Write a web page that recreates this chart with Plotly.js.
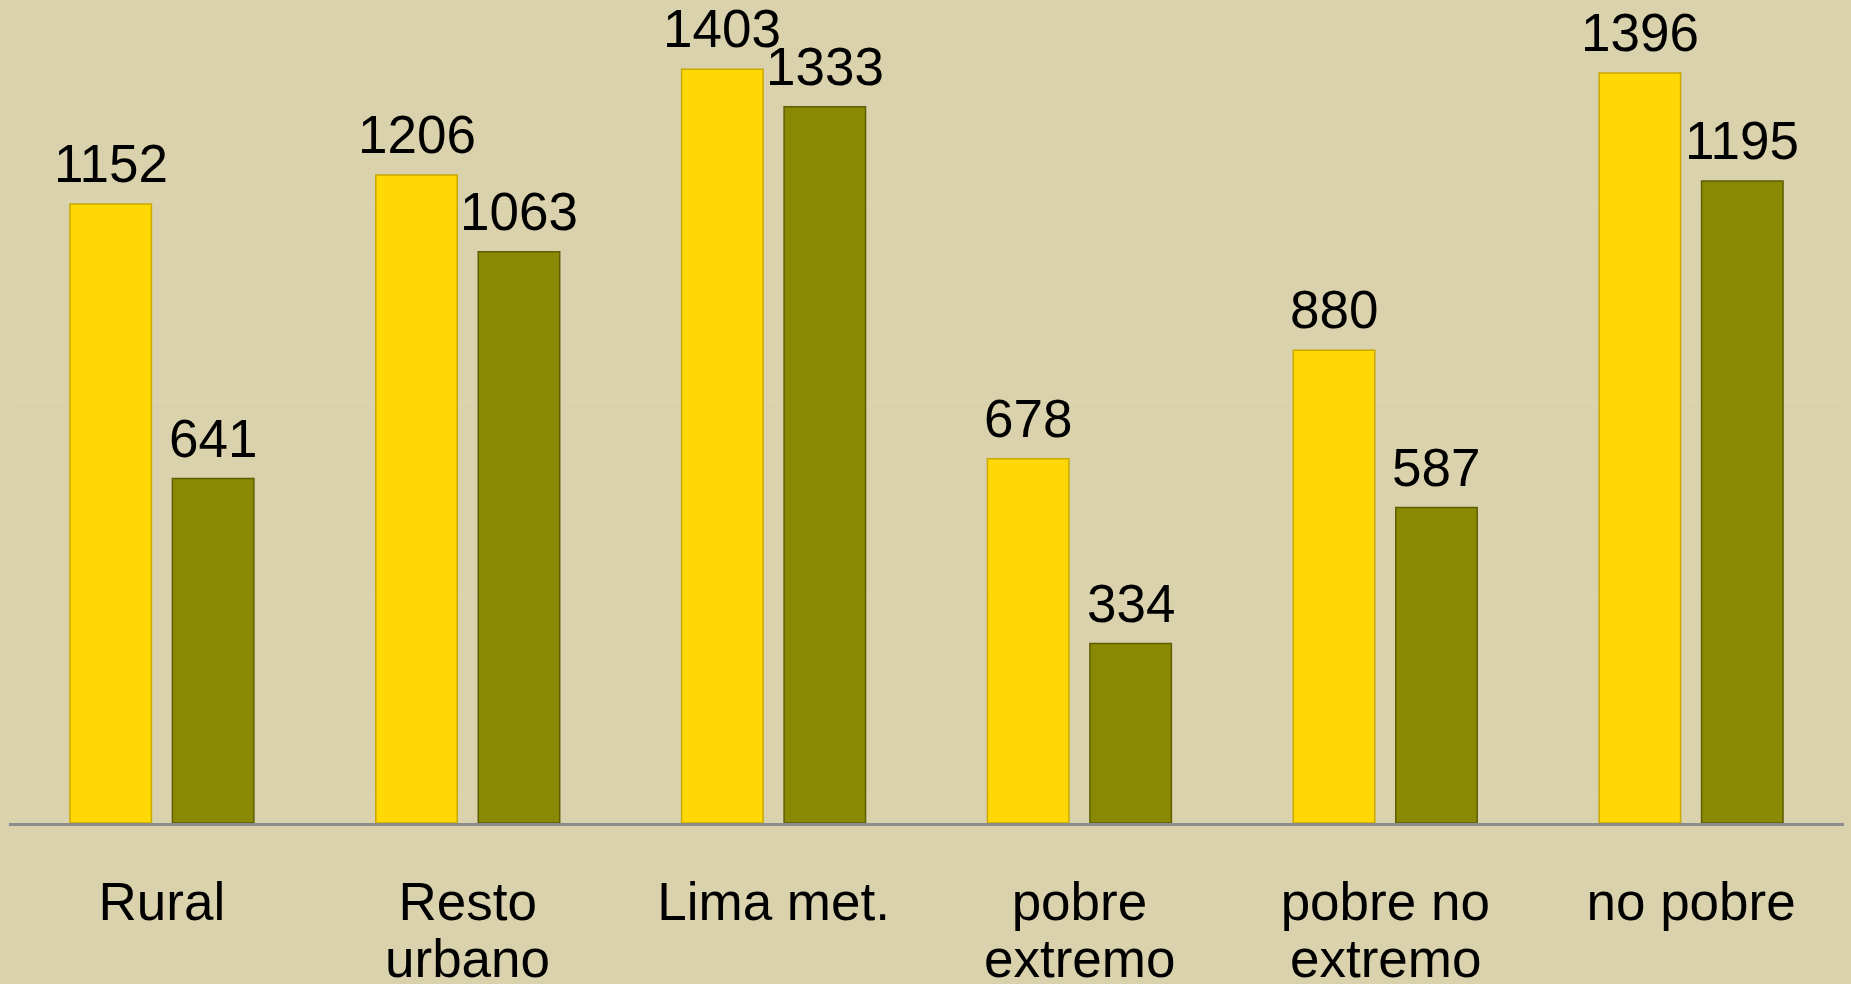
<!DOCTYPE html>
<html>
<head>
<meta charset="utf-8">
<script src="https://cdn.plot.ly/plotly-3.0.1.min.js"></script>
<style>
  html, body { margin: 0; padding: 0; background: #D9D2AC; }
  #chart { width: 1851px; height: 984px; }
</style>
</head>
<body>
<div id="chart"></div>
<script>
// ---- data ----
var categories = ["Rural", "Resto urbano", "Lima met.", "pobre extremo", "pobre no extremo", "no pobre"];
var tickLine1 = ["Rural", "Resto", "Lima met.", "pobre", "pobre no", "no pobre"];
var tickLine2 = ["", "urbano", "", "extremo", "extremo", ""];
var seriesYellow = [1152, 1206, 1403, 678, 880, 1396];
var seriesGreen = [641, 1063, 1333, 334, 587, 1195];
var gridVals = [50, 420, 787, 1156];

// ---- styles ----
var bg = "#D9D2AC";
var fontFam = "Liberation Sans, Arial, sans-serif";
var W = 1851, H = 984;
var margin = { l: 9, r: 7, t: 0, b: 161, pad: 0 };
var bargap = 0.33;
var valueFontSize = 53;
var catFontSize = 53;

function barTrace(vals, color, lineColor) {
  return {
    type: "bar",
    x: categories,
    y: vals,
    marker: { color: color, line: { color: lineColor, width: 1.5 } },
    hoverinfo: "x+y",
    showlegend: false
  };
}

var data = [
  barTrace(seriesYellow, "#FFD805", "#C9A800"),
  barTrace(seriesGreen, "#8A8903", "#5E5E00")
];

// value labels placed at each bar's centre (offset derived from the group layout)
var catWidth = (W - margin.l - margin.r) / categories.length;
var slot = catWidth * (1 - bargap) / 2;
var offsets = [-slot / 2, slot / 2];

var annotations = [];
[seriesYellow, seriesGreen].forEach(function (vals, k) {
  vals.forEach(function (v, i) {
    annotations.push({
      x: categories[i], y: v, xref: "x", yref: "y",
      text: String(v),
      showarrow: false,
      xanchor: "center", yanchor: "bottom",
      xshift: offsets[k], yshift: 9,
      font: { family: fontFam, size: valueFontSize, color: "#000000" }
    });
  });
});

categories.forEach(function (c, i) {
  if (tickLine2[i] === "") return;
  annotations.push({
    x: c, y: 0, xref: "x", yref: "y",
    text: tickLine2[i],
    showarrow: false,
    yanchor: "top",
    yshift: -104,
    font: { family: fontFam, size: catFontSize, color: "#000000" }
  });
});

var layout = {
  width: W,
  height: H,
  margin: margin,
  paper_bgcolor: bg,
  plot_bgcolor: bg,
  barmode: "group",
  bargap: bargap,
  bargroupgap: 0.205,
  font: { family: fontFam, color: "#000000" },
  xaxis: {
    type: "category",
    tickvals: categories,
    ticktext: tickLine1,
    tickfont: { family: fontFam, size: catFontSize, color: "#000000" },
    showline: true,
    linecolor: "#8C8C8C",
    linewidth: 3,
    ticks: "",
    showgrid: false,
    zeroline: false,
    ticklabelstandoff: 30
  },
  yaxis: {
    range: [0, 1531.7],
    tickvals: gridVals,
    showticklabels: false,
    showgrid: true,
    gridcolor: "#DCD6B3",
    gridwidth: 1,
    zeroline: false,
    showline: false,
    ticks: ""
  },
  annotations: annotations
};

Plotly.newPlot("chart", data, layout, { displayModeBar: false, staticPlot: true });
</script>
</body>
</html>
